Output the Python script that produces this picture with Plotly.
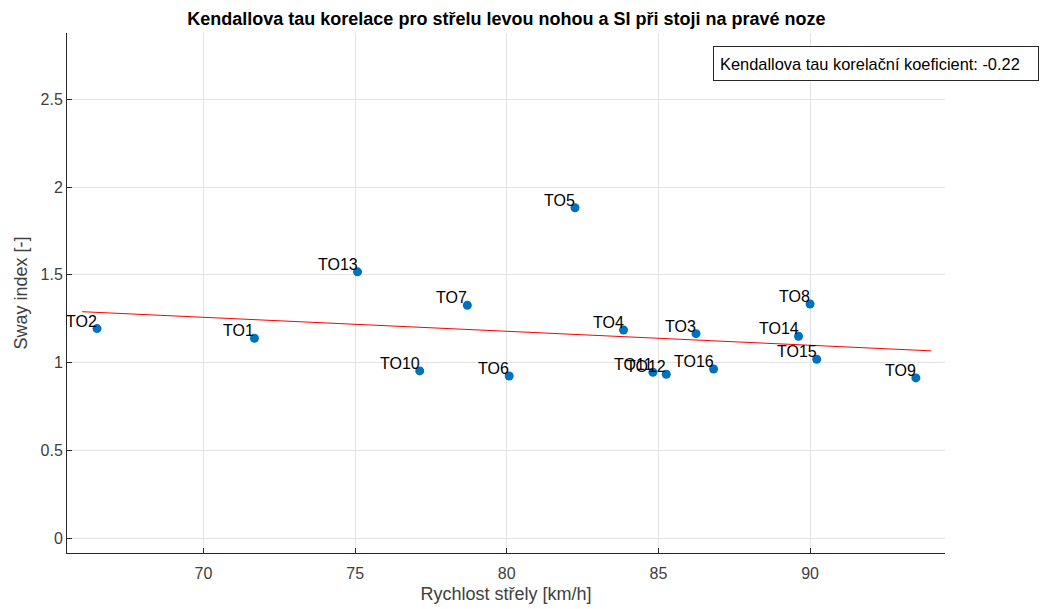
import plotly.graph_objects as go

labels = ["TO1", "TO2", "TO3", "TO4", "TO5", "TO6", "TO7", "TO8",
          "TO9", "TO10", "TO11", "TO12", "TO13", "TO14", "TO15", "TO16"]
speed = [71.68, 66.49, 86.24, 83.85, 82.25, 80.08, 78.70, 90.00,
         93.49, 77.13, 84.82, 85.26, 75.08, 89.62, 90.22, 86.82]
sway = [1.139, 1.194, 1.165, 1.186, 1.882, 0.924, 1.327, 1.334,
        0.913, 0.953, 0.945, 0.934, 1.517, 1.150, 1.019, 0.964]
trend_x = [66.0, 94.0]
trend_y = [1.290, 1.067]
tau_text = "Kendallova tau korelační koeficient: -0.22"
x_ticks = [70, 75, 80, 85, 90]
y_ticks = [0, 0.5, 1, 1.5, 2, 2.5]
y_ticktext = ["0", "0.5", "1", "1.5", "2", "2.5"]

font = "Liberation Sans, Arial, sans-serif"
axis_col = "#262626"
tick_col = "#404040"

fig = go.Figure()
fig.add_trace(go.Scatter(
    x=speed, y=sway, mode="markers",
    marker=dict(color="#0072BD", size=9),
    showlegend=False, cliponaxis=False, hoverinfo="skip"))
fig.add_trace(go.Scatter(
    x=trend_x, y=trend_y, mode="lines",
    line=dict(color="#FF0000", width=1), showlegend=False, hoverinfo="skip"))

annots = []
for lab, xv, yv in zip(labels, speed, sway):
    annots.append(dict(text=lab, x=xv, y=yv, xref="x", yref="y",
                       xanchor="right", yanchor="bottom", showarrow=False,
                       xshift=1, yshift=-2, borderpad=0,
                       font=dict(family=font, size=16, color="#000000")))
annots.append(dict(text=tau_text, xref="paper", yref="paper",
                   x=0.7358, y=0.9404, xanchor="left", yanchor="middle",
                   width=312, height=21, align="left", valign="middle",
                   showarrow=False, bordercolor="#262626", borderwidth=1,
                   borderpad=6, bgcolor="white",
                   font=dict(family=font, size=16.4, color="#000000")))

fig.update_layout(
    width=1043, height=609,
    margin=dict(l=67, r=98, t=33, b=56),
    paper_bgcolor="white", plot_bgcolor="white",
    font=dict(family=font, size=16, color=axis_col),
    title=dict(text="<b>Kendallova tau korelace pro střelu levou nohou a SI při stoji na pravé noze</b>",
               x=0.4855, xanchor="center", y=0.970, yanchor="middle",
               font=dict(family=font, size=18, color="#000000")),
    annotations=annots,
)
fig.update_xaxes(
    range=[65.5, 94.45], tickvals=x_ticks, automargin=False,
    showgrid=True, gridcolor="#e3e3e3", gridwidth=1,
    showline=True, linecolor=axis_col, linewidth=1, mirror=False,
    ticks="inside", ticklen=5, tickcolor=axis_col, zeroline=False,
    ticklabelstandoff=6,
    title=dict(text="Rychlost střely [km/h]", font=dict(family=font, size=18, color=tick_col), standoff=6),
    tickfont=dict(family=font, size=16, color=tick_col))
fig.update_yaxes(
    range=[-0.084, 2.877], tickvals=y_ticks, ticktext=y_ticktext, automargin=False,
    showgrid=True, gridcolor="#e3e3e3", gridwidth=1,
    showline=True, linecolor=axis_col, linewidth=1, mirror=False,
    ticks="inside", ticklen=5, tickcolor=axis_col, zeroline=False,
    title=dict(text="Sway index [-]", font=dict(family=font, size=18, color=tick_col), standoff=8),
    tickfont=dict(family=font, size=16, color=tick_col))

fig.write_html("out.html", config={"displayModeBar": False},
               post_script="document.body.style.margin='0';document.body.style.padding='0';")
